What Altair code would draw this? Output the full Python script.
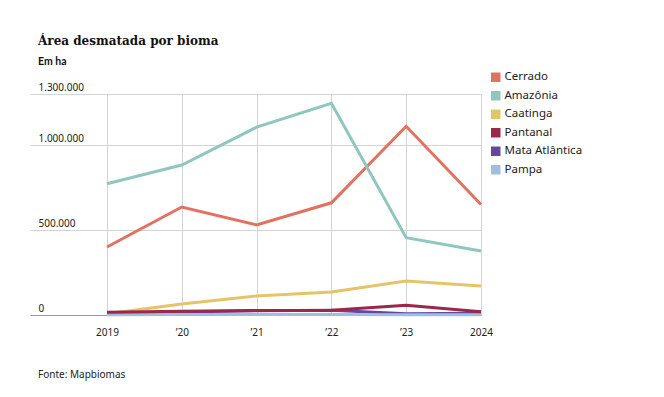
import altair as alt
import pandas as pd

years = [2019, 2020, 2021, 2022, 2023, 2024]
biomas = ["Cerrado", "Amazônia", "Caatinga", "Pantanal", "Mata Atlântica", "Pampa"]
cerrado = [400000, 635000, 530000, 660000, 1110000, 650000]
amazonia = [772000, 882000, 1105000, 1245000, 455000, 376000]
caatinga = [8000, 65000, 112000, 135000, 200000, 171000]
pantanal = [16000, 22000, 27000, 28000, 57000, 19000]
mata = [11000, 18000, 25000, 28000, 8000, 10000]
pampa = [2000, 2500, 3000, 3000, 2000, 1500]
colors = ["#e2725f", "#8fc7be", "#e5c468", "#9b2848", "#6448a0", "#a0bee1"]

series = [cerrado, amazonia, caatinga, pantanal, mata, pampa]
rows = []
for b, vals in zip(biomas, series):
    for y, v in zip(years, vals):
        rows.append({"ano": y, "bioma": b, "area": v})
df = pd.DataFrame(rows)

x_labels = "datum.value == 2019 || datum.value == 2024 ? '' + datum.value : '\u2019' + substring('' + datum.value, 2)"
y_labels = "replace(format(datum.value, ','), regexp(',', 'g'), '.')"

x_enc = alt.X("ano:Q",
              scale=alt.Scale(domain=[2017.9706, 2024], nice=False, zero=False),
              axis=alt.Axis(values=years, labelExpr=x_labels, title=None, ticks=False,
                            tickSize=0, labelPadding=12, labelFlush=False, labelOverlap=False,
                            grid=True, gridColor="#d4d4d4", domainColor="#999999",
                            labelFont="Noto Sans", labelFontSize=10, labelColor="#222222"))
y_enc = alt.Y("area:Q",
              scale=alt.Scale(domain=[0, 1300000], nice=False),
              axis=alt.Axis(values=[0, 500000, 1000000, 1300000], labelExpr=y_labels,
                            title=None, ticks=False, tickSize=0, domain=False,
                            labelAlign="left", labelBaseline="bottom", labelPadding=-8,
                            labelOffset=-2, labelFlush=False, labelOverlap=False,
                            grid=True, gridColor="#d4d4d4",
                            labelFont="Noto Sans", labelFontSize=10, labelColor="#222222"))
c_scale = alt.Scale(domain=biomas, range=colors)
c_line = alt.Color("bioma:N", scale=c_scale, sort=biomas, legend=None)
c_leg = alt.Color("bioma:N", scale=c_scale, sort=biomas,
                  legend=alt.Legend(title=None, orient="none", legendX=460, legendY=-22.5,
                                    symbolType="square", symbolSize=90,
                                    symbolStrokeWidth=0, symbolOpacity=1,
                                    labelFont="Noto Sans", labelFontSize=11.5,
                                    labelColor="#222222", rowPadding=5.5,
                                    labelOffset=3))

base = alt.Chart(df)
legend_layer = base.mark_square(size=90, opacity=0).encode(x=x_enc, y=y_enc, color=c_leg)
others = base.mark_line(strokeWidth=3, strokeCap="butt").transform_filter(
    "datum.bioma != 'Pantanal'").encode(x=x_enc, y=y_enc, color=c_line, detail="bioma:N")
pant = base.mark_line(strokeWidth=3, strokeCap="butt").transform_filter(
    "datum.bioma == 'Pantanal'").encode(x=x_enc, y=y_enc, color=c_line, detail="bioma:N")

src = alt.Chart(pd.DataFrame({"t": ["Fonte: Mapbiomas"]})).mark_text(
    align="left", baseline="middle", font="Noto Sans", fontSize=10, color="#222222"
).encode(text="t:N", x=alt.value(8), y=alt.value(281))

chart = alt.layer(legend_layer, others, pant, src).properties(
    width=451,
    height=221,
    autosize=alt.AutoSizeParams(type="none"),
    padding={"left": 22, "top": 86, "right": 175, "bottom": 74},
    title=alt.TitleParams(
        text="Área desmatada por bioma",
        subtitle="Em ha",
        anchor="start",
        frame="group",
        dx=8,
        offset=3,
        font="DejaVu Serif",
        fontSize=12,
        fontWeight="bold",
        color="#111111",
        subtitleFont="Lato",
        subtitleFontSize=10.5,
        subtitleFontWeight="bold",
        subtitleColor="#111111",
        subtitlePadding=9,
    ),
).configure_view(stroke=None)

chart.save("out.html", embed_options={"renderer": "svg", "actions": False})
